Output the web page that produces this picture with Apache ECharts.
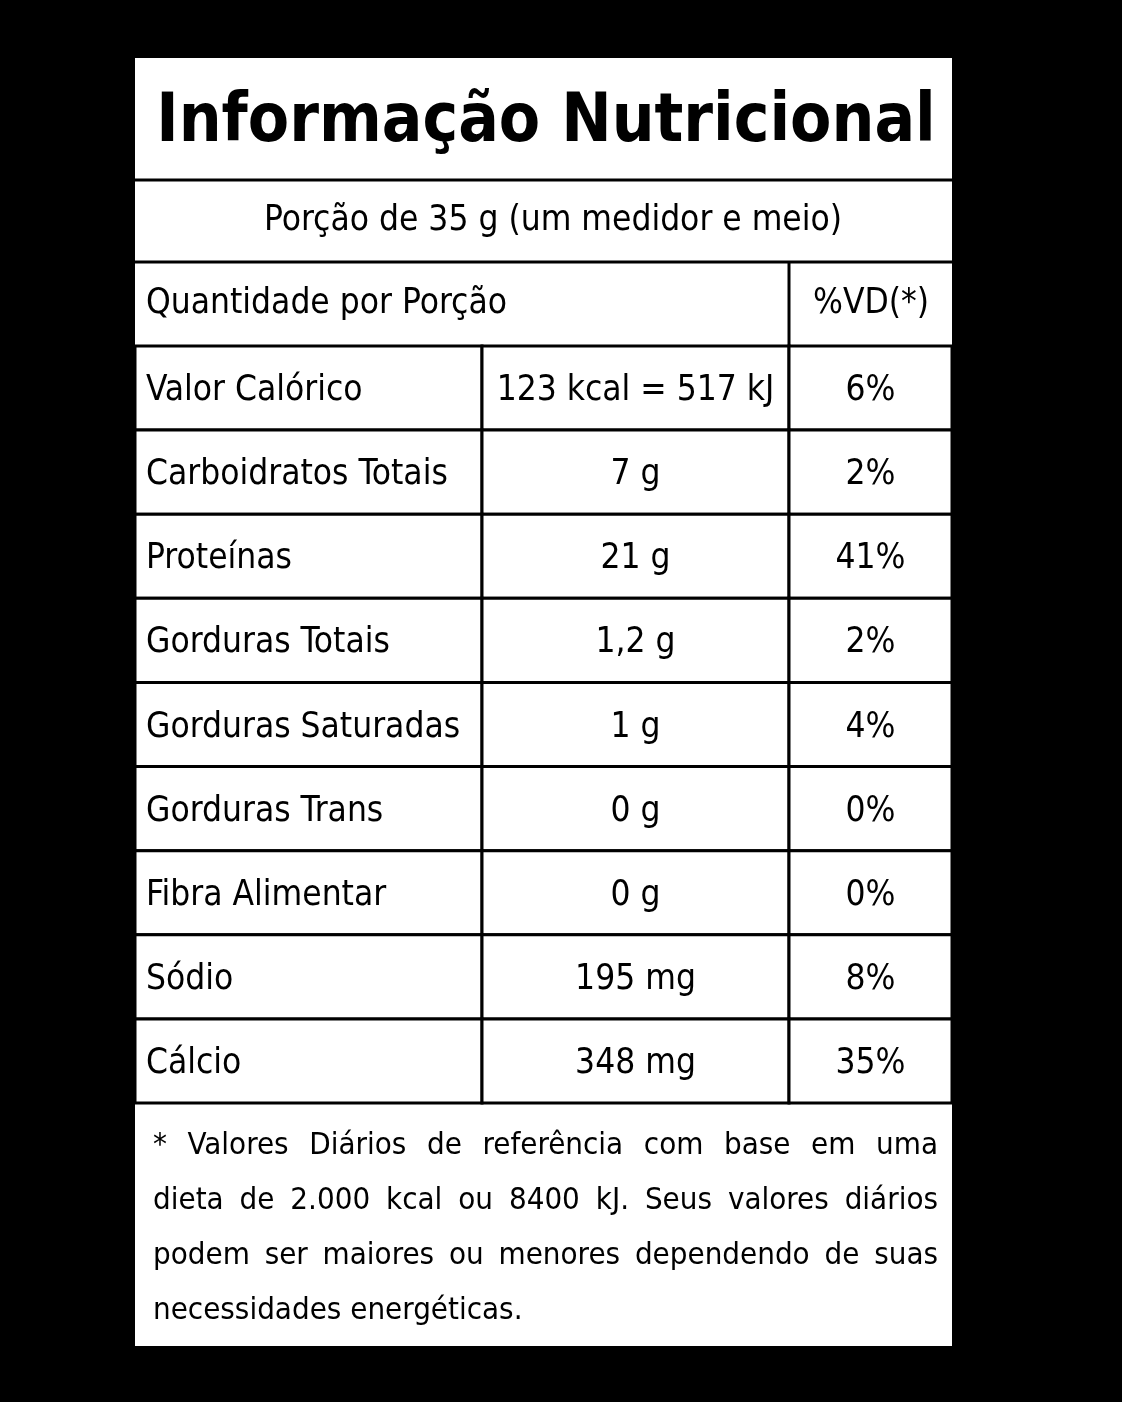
<!DOCTYPE html>
<html><head><meta charset="utf-8">
<script src="https://cdn.jsdelivr.net/npm/echarts@6/dist/echarts.min.js"></script>
<style>html,body{margin:0;background:#000}#c{width:1122px;height:1402px}</style>
</head><body><div id="c"></div>
<script>
const nutrients = ["Valor Calórico","Carboidratos Totais","Proteínas","Gorduras Totais","Gorduras Saturadas","Gorduras Trans","Fibra Alimentar","Sódio","Cálcio"];
const amounts = ["123 kcal = 517 kJ","7 g","21 g","1,2 g","1 g","0 g","0 g","195 mg","348 mg"];
const percentDV = ["6%","2%","41%","2%","4%","0%","0%","8%","35%"];
const titleText = "Informação Nutricional";
const portionText = "Porção de 35 g (um medidor e meio)";
const headerLeft = "Quantidade por Porção";
const headerRight = "%VD(*)";
const footLines = ["*  Valores Diários de referência com base em uma","dieta de 2.000 kcal ou 8400 kJ. Seus valores diários","podem ser maiores ou menores dependendo de suas","necessidades energéticas."];

const F = "'Liberation Sans Narrow','DejaVu Sans Condensed','Roboto',sans-serif";
const chart = echarts.init(document.getElementById('c'));
const L=135,R=952,T=58,B=1346;
const graphic = [
  {type:'rect',shape:{x:L,y:T,width:R-L,height:B-T},style:{fill:'#fff'}},
  {type:'line',shape:{x1:L,y1:180,x2:R,y2:180},style:{stroke:'#000',lineWidth:3}},
  {type:'line',shape:{x1:L,y1:262,x2:R,y2:262},style:{stroke:'#000',lineWidth:3}},
  {type:'line',shape:{x1:789,y1:262,x2:789,y2:346},style:{stroke:'#000',lineWidth:3}},
  {type:'text',x:546,y:124,style:{text:titleText,font:'bold 67px '+F,fill:'#000',align:'center',verticalAlign:'middle'}},
  {type:'text',x:553,y:221,style:{text:portionText,font:'35px '+F,fill:'#000',align:'center',verticalAlign:'middle'}},
  {type:'text',x:146,y:304,style:{text:headerLeft,font:'35px '+F,fill:'#000',align:'left',verticalAlign:'middle'}},
  {type:'text',x:871,y:304,style:{text:headerRight,font:'35px '+F,fill:'#000',align:'center',verticalAlign:'middle'}}
];
const footFont='31px '+F;
const ctx=document.createElement('canvas').getContext('2d'); ctx.font=footFont;
footLines.forEach((t,i)=>{
  const y=1146+i*55;
  if(i===footLines.length-1){graphic.push({type:'text',x:153,y:y,style:{text:t,font:footFont,fill:'#000',verticalAlign:'middle'}});return;}
  const words=t.split(/\s+/); const ws=words.map(w=>ctx.measureText(w).width);
  const total=ws.reduce((a,b)=>a+b,0); const gap=(938-153-total)/(words.length-1);
  let x=153;
  words.forEach((w,j)=>{graphic.push({type:'text',x:x,y:y,style:{text:w,font:footFont,fill:'#000',verticalAlign:'middle'}});x+=ws[j]+gap;});
});

chart.setOption({
  backgroundColor:'#000',
  animation:false,
  graphic:graphic,
  grid:{left:L,top:346,width:R-L,height:757},
  xAxis:{type:'value',min:0,max:R-L,show:false},
  yAxis:{type:'category',data:nutrients,inverse:true,show:false},
  series:[{
    type:'custom',
    z:10,
    data:nutrients.map((n,i)=>[0,i]),
    renderItem:function(params,api){
      const i=api.value(1);
      const c=api.coord([0,i]);
      const h=api.size([0,1])[1];
      const x0=api.coord([0,i])[0], x1=api.coord([347,i])[0], x2=api.coord([654,i])[0], x3=api.coord([817,i])[0];
      const y0=c[1]-h/2;
      const st={fill:'#fff',stroke:'#000',lineWidth:3};
      const ts=(t,x,al)=>({type:'text',style:{text:t,x:x,y:c[1]+3,font:'35px '+F,fill:'#000',align:al,verticalAlign:'middle'}});
      return {type:'group',children:[
        {type:'rect',shape:{x:x0,y:y0,width:x1-x0,height:h},style:st},
        {type:'rect',shape:{x:x1,y:y0,width:x2-x1,height:h},style:st},
        {type:'rect',shape:{x:x2,y:y0,width:x3-x2,height:h},style:st},
        ts(nutrients[i],x0+11,'left'),
        ts(amounts[i],(x1+x2)/2,'center'),
        ts(percentDV[i],(x2+x3)/2,'center')
      ]};
    }
  }]
});
</script></body></html>
